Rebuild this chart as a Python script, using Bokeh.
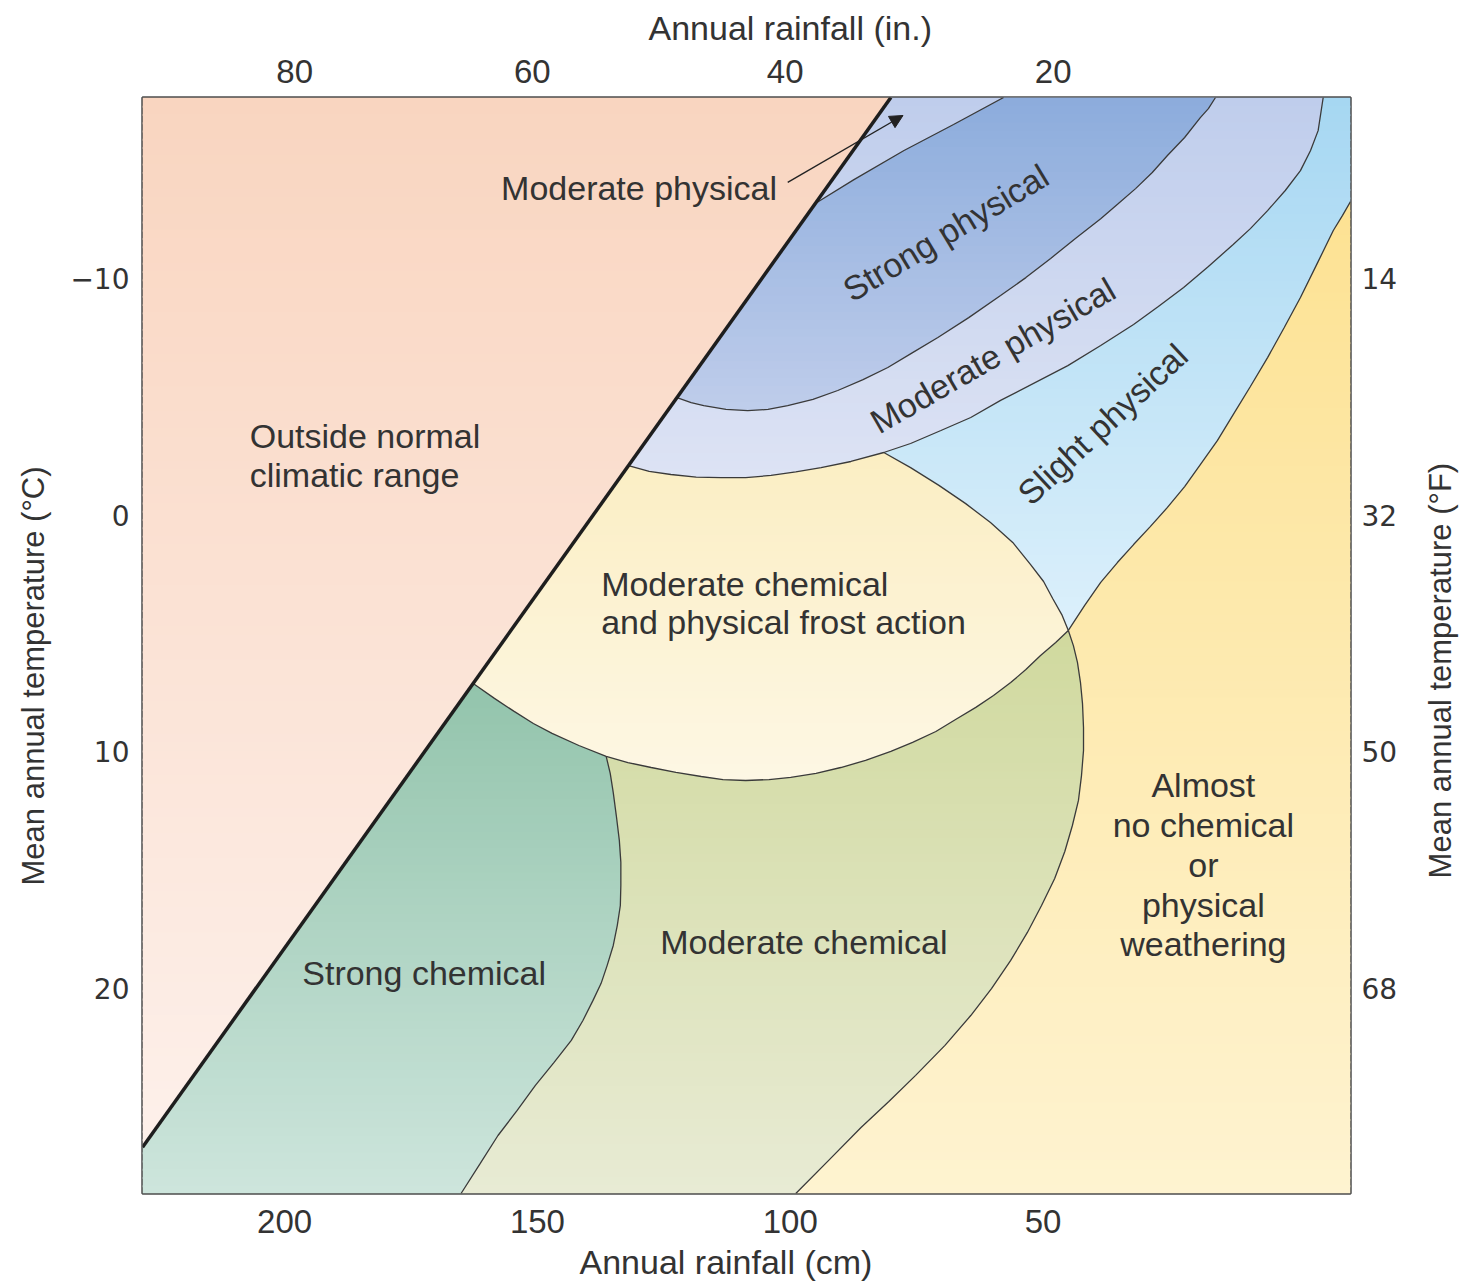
from bokeh.plotting import figure
from bokeh.layouts import row
from bokeh.models import Range1d, LinearAxis, FixedTicker, Arrow, NormalHead, ColumnDataSource, Title
from bokeh.core.properties import value
from bokeh.embed import file_html
from bokeh.resources import INLINE

FONT = "Liberation Sans"
TICK_FONT = "DejaVu Sans"
INK = "#333333"

# ---------------- diagram extent (annual rainfall, cm ; mean annual temperature, degC) ----
RAIN_LEFT, RAIN_RIGHT = 228.1, -10.8
TEMP_BOTTOM, TEMP_TOP = 28.66, -17.65

# ---------------- ticks ----------------
cm_ticks = [200, 150, 100, 50]
inch_tick_pos_cm = [198, 151, 101, 48]
inch_tick_labels = ["80", "60", "40", "20"]
celsius_ticks = [-10, 0, 10, 20]
celsius_labels = ["\u221210", "0", "10", "20"]
fahrenheit_ticks = [14, 32, 50, 68]

# ---------------- boundaries (rain cm, temp degC) ----------------
limit_rain = [228.1, 80.1]          # outer climatic limit (thick line)
limit_temp = [26.71, -17.65]

strong_phys_upper = [(95.05, -13.17), (87.4, -14.18), (77.5, -15.41), (67.7, -16.51), (57.8, -17.65)]
strong_phys_lower = [(122.4, -4.97), (119.6, -4.76), (117.1, -4.63), (112.7, -4.47), (108.4, -4.42),
                     (104.4, -4.47), (100.5, -4.63), (95.5, -4.89), (90.6, -5.27), (85.6, -5.73),
                     (80.7, -6.24), (75.8, -6.87), (70.8, -7.51), (64.7, -8.35), (58.4, -9.28),
                     (53.4, -10.04), (48.5, -10.85), (43.6, -11.69), (38.6, -12.53), (35.1, -13.17),
                     (31.7, -13.80), (28.4, -14.48), (25.4, -15.20), (22.0, -15.96), (18.9, -16.80),
                     (17.3, -17.18), (15.9, -17.65)]
mod_phys_lower_west = [(132.0, -2.10), (127.9, -1.85), (123.6, -1.72), (118.6, -1.61), (113.7, -1.59),
                       (108.8, -1.59), (103.8, -1.68), (98.9, -1.83), (93.9, -2.01), (88.0, -2.27),
                       (81.5, -2.65)]
mod_phys_lower_east = [(81.5, -2.65), (76.2, -3.03), (70.2, -3.58), (64.3, -4.13), (58.4, -4.85),
                       (45.1, -6.32), (38.6, -7.17), (32.1, -8.06), (27.2, -8.82), (22.2, -9.62),
                       (17.3, -10.51), (12.4, -11.44), (9.0, -12.11), (5.6, -12.87), (2.1, -13.72),
                       (-0.9, -14.56), (-2.9, -15.41), (-4.4, -16.25), (-5.4, -17.65)]
frost_east = [(81.5, -2.65), (76.2, -2.01), (70.6, -1.26), (65.3, -0.49), (60.4, 0.31), (56.0, 1.15),
              (52.5, 2.08), (49.9, 2.80), (48.1, 3.52), (46.3, 4.20), (45.0, 4.87)]
dry_limit = [(-10.8, -13.25), (-9.2, -12.66), (-7.4, -12.03), (-4.2, -10.63), (-0.9, -9.20), (2.3, -7.93),
             (5.6, -6.66), (9.0, -5.44), (12.4, -4.25), (15.5, -3.16), (18.9, -2.14), (22.0, -1.21),
             (25.4, -0.33), (28.8, 0.48), (32.1, 1.24), (35.3, 2.00), (38.6, 2.84), (41.8, 3.82),
             (45.0, 4.87)]
frost_south_east = [(45.0, 4.87), (47.5, 5.38), (50.5, 5.93), (53.4, 6.52), (56.4, 7.07), (59.8, 7.62),
                    (63.3, 8.12), (67.3, 8.63), (71.2, 9.14), (75.8, 9.60), (80.1, 9.98), (85.1, 10.36),
                    (90.0, 10.66), (94.9, 10.91), (99.9, 11.08), (104.2, 11.17), (108.8, 11.21),
                    (113.3, 11.17), (117.6, 11.04), (122.6, 10.87), (127.5, 10.66), (132.1, 10.45),
                    (136.4, 10.19)]
frost_south_west = [(136.4, 10.19), (141.8, 9.73), (147.1, 9.22), (150.8, 8.80), (154.6, 8.29),
                    (158.5, 7.74), (162.7, 7.11)]
strong_chem_east = [(136.4, 10.19), (135.6, 10.91), (135.0, 11.72), (134.4, 12.69), (133.8, 13.74),
                    (133.5, 14.67), (133.5, 15.64), (133.6, 16.49), (134.2, 17.33), (135.0, 18.18),
                    (136.2, 19.02), (137.4, 19.78), (139.0, 20.50), (141.0, 21.35), (143.3, 22.19),
                    (146.7, 23.12), (150.4, 24.09), (154.0, 25.15), (157.8, 26.21), (161.3, 27.39),
                    (165.1, 28.66)]
mod_chem_east = [(45.0, 4.87), (44.0, 5.51), (43.2, 6.22), (42.6, 7.07), (42.2, 7.96), (42.0, 8.97),
                 (42.0, 9.94), (42.4, 11.00), (43.0, 12.05), (44.2, 13.11), (45.7, 14.21), (47.7, 15.35),
                 (50.3, 16.49), (53.1, 17.63), (56.4, 18.81), (60.2, 20.00), (64.3, 21.14), (69.4, 22.40),
                 (75.2, 23.67), (80.5, 24.77), (86.0, 25.87), (92.4, 27.26), (98.9, 28.66)]

# region colours (top, bottom)
region_colors = {
    "outside": ("#f9d5c0", "#fdf0ea"),
    "moderate_physical": ("#bfcdec", "#dde3f4"),
    "strong_physical": ("#8cacdc", "#bfcdeb"),
    "slight_physical": ("#a6d7f2", "#dcf0fb"),
    "frost": ("#fbeec3", "#fdf7e4"),
    "strong_chemical": ("#93c4ac", "#cde5dc"),
    "moderate_chemical": ("#d0d99e", "#e8ebd4"),
    "none": ("#fde293", "#fef3d0"),
}

# ---------------- labels ----------------
left_labels = ["Outside normal", "climatic range", "Moderate chemical", "and physical frost action"]
left_x = [206.9, 206.9, 137.4, 137.4]
left_y = [-3.33, -1.68, 2.89, 4.53]

center_labels = ["Moderate physical", "Strong chemical", "Moderate chemical",
                 "Almost", "no chemical", "or", "physical", "weathering"]
center_x = [129.9, 172.4, 97.3, 18.3, 18.3, 18.3, 18.3, 18.3]
center_y = [-13.84, 19.36, 18.05, 11.42, 13.11, 14.80, 16.49, 18.10]

rot_labels = ["Strong physical", "Moderate physical", "Slight physical"]
rot_x = [69.25, 59.96, 38.23]
rot_y = [-11.94, -6.75, -3.85]
rot_deg = [31, 30, 43]

arrow_start = (100.5, -14.06)
arrow_end = (77.7, -16.89)

# ---------------- assemble region polygons ----------------
LT = (RAIN_LEFT, TEMP_TOP)
RT = (RAIN_RIGHT, TEMP_TOP)
LB = (RAIN_LEFT, TEMP_BOTTOM)
RB = (RAIN_RIGHT, TEMP_BOTTOM)
lim_bot = (limit_rain[0], limit_temp[0])
lim_top = (limit_rain[1], limit_temp[1])
J1 = frost_south_west[-1]
J2 = mod_phys_lower_west[0]
J3 = strong_phys_lower[0]


def rev(a):
    return list(reversed(a))


regions = [
    ("outside", [LT, lim_top, lim_bot]),
    ("moderate_physical", [J2, lim_top] + rev(mod_phys_lower_east) + rev(mod_phys_lower_west)[1:]),
    ("strong_physical", [J3] + strong_phys_upper + rev(strong_phys_lower)),
    ("slight_physical", mod_phys_lower_east + [RT] + dry_limit + rev(frost_east)),
    ("frost", [J1] + mod_phys_lower_west + frost_east[1:] + frost_south_east[1:] + frost_south_west[1:]),
    ("strong_chemical", [lim_bot] + rev(frost_south_west) + strong_chem_east + [LB]),
    ("moderate_chemical", mod_chem_east + rev(strong_chem_east) + rev(frost_south_east)[1:]),
    ("none", dry_limit + mod_chem_east[1:] + [RB]),
]


def clip_half(poly, t, keep_ge):
    out = []
    n = len(poly)
    for i in range(n):
        px, py = poly[i - 1]
        cx, cy = poly[i]
        pin = py >= t if keep_ge else py <= t
        cin = cy >= t if keep_ge else cy <= t
        if cin:
            if not pin:
                s = (t - py) / (cy - py)
                out.append((px + s * (cx - px), t))
            out.append((cx, cy))
        elif pin:
            s = (t - py) / (cy - py)
            out.append((px + s * (cx - px), t))
    return out


def hex2rgb(h):
    h = h.lstrip("#")
    return tuple(int(h[i:i + 2], 16) for i in (0, 2, 4))


def mix(c0, c1, f):
    a, b = hex2rgb(c0), hex2rgb(c1)
    return "#%02x%02x%02x" % tuple(int(round(a[k] + (b[k] - a[k]) * f)) for k in range(3))


# vertical colour shading of every region (drawn as thin horizontal pieces of the region)
sx, sy, sc = [], [], []
for name, poly in regions:
    c_top, c_bot = region_colors[name]
    temps = [q[1] for q in poly]
    t_lo, t_hi = min(temps), max(temps)
    n = max(2, int(round((t_hi - t_lo) / 0.35)))
    h = (t_hi - t_lo) / n
    for i in range(n):
        a = t_lo + i * h
        b = a + h + (0.08 if i < n - 1 else 0.0)
        piece = clip_half(clip_half(poly, a, True), b, False)
        if len(piece) >= 3:
            sx.append([q[0] for q in piece])
            sy.append([q[1] for q in piece])
            sc.append(mix(c_top, c_bot, (i + 0.5) / n))

# ---------------- main figure ----------------
p = figure(width=1420, height=1287, title=None,
           x_range=Range1d(start=RAIN_LEFT, end=RAIN_RIGHT),
           y_range=Range1d(start=TEMP_BOTTOM, end=TEMP_TOP),
           output_backend="svg", toolbar_location=None,
           min_border_left=141, min_border_right=70, min_border_top=97, min_border_bottom=94)
p.grid.visible = False
p.background_fill_color = "white"
p.border_fill_color = "white"
p.outline_line_color = "#4d4d4d"
p.outline_line_width = 2.5

p.below[0].ticker = FixedTicker(ticks=cm_ticks)
p.left[0].ticker = FixedTicker(ticks=celsius_ticks)
p.left[0].major_label_overrides = dict(zip(celsius_ticks, celsius_labels))

p.extra_y_ranges = {"degF": Range1d(start=32 + 1.8 * TEMP_BOTTOM, end=32 + 1.8 * TEMP_TOP)}
right_axis = LinearAxis(y_range_name="degF", ticker=FixedTicker(ticks=fahrenheit_ticks))
p.add_layout(right_axis, "right")
top_axis = LinearAxis(ticker=FixedTicker(ticks=inch_tick_pos_cm),
                      major_label_overrides=dict(zip(inch_tick_pos_cm, inch_tick_labels)))
p.add_layout(top_axis, "above")

for ax in [p.below[0], top_axis]:
    ax.major_label_text_font = FONT
    ax.major_label_text_font_size = "33px"
for ax in [p.left[0], right_axis]:
    ax.major_label_text_font = TICK_FONT
    ax.major_label_text_font_size = "28px"
for ax in [p.below[0], top_axis, p.left[0], right_axis]:
    ax.axis_line_color = None
    ax.major_tick_line_color = None
    ax.minor_tick_line_color = None
    ax.major_tick_out = 0
    ax.major_tick_in = 0
    ax.major_label_text_color = INK
p.below[0].major_label_standoff = 16
top_axis.major_label_standoff = 15
p.left[0].major_label_standoff = 13
right_axis.major_label_standoff = 11

# axis titles (placed in the side panels)
p.add_layout(Title(text="Annual rainfall (cm)", align="left", offset=437, vertical_align="bottom",
                   standoff=10, text_font=FONT, text_font_size="34px", text_font_style="normal",
                   text_color=INK), "below")
p.add_layout(Title(text="Annual rainfall (in.)", align="left", offset=506, vertical_align="top",
                   standoff=16, text_font=FONT, text_font_size="34px", text_font_style="normal",
                   text_color=INK), "above")
p.add_layout(Title(text="Mean annual temperature (\u00b0C)", align="left", offset=308, vertical_align="top",
                   standoff=30, text_font=FONT, text_font_size="31px", text_font_style="normal",
                   text_color=INK), "left")

src = ColumnDataSource(dict(xs=sx, ys=sy, color=sc))
p.patches("xs", "ys", source=src, fill_color="color", line_color=None)

bounds = [strong_phys_upper, strong_phys_lower, mod_phys_lower_west + mod_phys_lower_east[1:],
          frost_east, dry_limit, frost_south_east + frost_south_west[1:], strong_chem_east, mod_chem_east]
p.multi_line([[q[0] for q in b] for b in bounds], [[q[1] for q in b] for b in bounds],
             line_color="#3a3a3a", line_width=1.3)
p.line(limit_rain, limit_temp, line_color="#1e1e1e", line_width=3.5)

p.text(x=left_x, y=left_y, text=left_labels, text_font=value(FONT), text_font_size="34px",
       text_color=INK, text_align="left", text_baseline="middle")
p.text(x=center_x, y=center_y, text=center_labels, text_font=value(FONT), text_font_size="34px",
       text_color=INK, text_align="center", text_baseline="middle")
p.text(x=rot_x, y=rot_y, text=rot_labels, angle=rot_deg, angle_units="deg", text_font=value(FONT),
       text_font_size="34px", text_color=INK, text_align="center", text_baseline="middle")

p.add_layout(Arrow(end=NormalHead(size=13, fill_color="#222222", line_color="#222222", line_width=1),
                   x_start=arrow_start[0], y_start=arrow_start[1], x_end=arrow_end[0], y_end=arrow_end[1],
                   line_color="#222222", line_width=1.4))

# ---------------- right-hand title strip (reads bottom to top) ----------------
q = figure(width=46, height=1287, title=None, x_range=Range1d(start=0, end=46),
           y_range=Range1d(start=1287, end=0), output_backend="svg", toolbar_location=None,
           min_border=0)
q.axis.visible = False
q.grid.visible = False
q.outline_line_color = None
q.background_fill_color = "white"
q.border_fill_color = "white"
q.text(x=[20], y=[673], text=["Mean annual temperature (\u00b0F)"], angle=90, angle_units="deg",
       text_font=value(FONT), text_font_size="31px", text_color=INK, text_align="center",
       text_baseline="middle")

layout = row(p, q)
open("out.html", "w").write(file_html(layout, INLINE))
